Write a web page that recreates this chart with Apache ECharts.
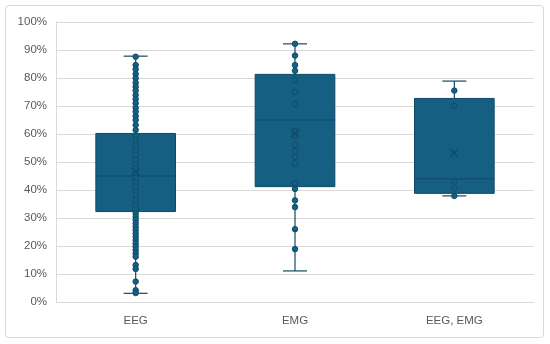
<!DOCTYPE html>
<html>
<head>
<meta charset="utf-8">
<script src="https://cdn.jsdelivr.net/npm/echarts@6/dist/echarts.min.js"></script>
<style>html,body{margin:0;padding:0;background:#fff}#c{width:550px;height:344px}</style>
</head>
<body>
<div id="c"></div>
<script>
const categories = ['EEG', 'EMG', 'EEG, EMG'];
const mins    = [3.1, 11.1, 37.9];
const q1s     = [32.3, 41.2, 38.8];
const medians = [45.0, 65.0, 44.0];
const q3s     = [60.2, 81.3, 72.7];
const maxs    = [87.8, 92.2, 78.9];
const means   = [46.5, 60.3, 53.2];
const eegPoints = [87.6, 84.6, 83.1, 81.4, 79.9, 78.3, 76.9, 75.5, 73.9, 72.4, 71.0, 69.4, 68.0, 66.4, 65.0, 63.2, 61.4,
  59.5, 57.8, 56.0, 54.2, 52.6, 51.0, 49.3, 47.7, 46.0, 44.3, 42.8, 41.2, 39.6, 38.0, 36.3, 34.7, 33.1,
  31.7, 30.5, 29.3, 28.1, 26.9, 25.7, 24.5, 23.3, 22.1, 20.9, 19.8, 18.6, 17.4, 16.2, 13.2, 11.8, 7.3, 4.2, 3.2];
const emgPoints = [92.2, 88.0, 84.6, 82.6, 79.3, 74.9, 70.7, 61.0, 59.5, 56.1, 54.0, 51.9, 49.5, 42.4, 40.4, 36.3, 33.9, 26.0, 18.9];
const bothPoints = [75.5, 70.0, 43.0, 40.5, 37.9];
const yTicks = [0, 10, 20, 30, 40, 50, 60, 70, 80, 90, 100];

const BOX = '#156082', DARK = '#0f4a66', PTB = '#0e4d69';
const boxData = categories.map((c, i) => [i, mins[i], q1s[i], medians[i], q3s[i], maxs[i]]);
const pointData = [];
[eegPoints, emgPoints, bothPoints].forEach((arr, i) => arr.forEach(v => pointData.push([i, v])));
const meanData = means.map((m, i) => [i, m]);

function renderBox(params, api) {
  const x = api.value(0);
  const band = api.size([1, 0])[0];
  const bw = band * 0.5, cw = 24;
  const pMin = api.coord([x, api.value(1)]);
  const pQ1 = api.coord([x, api.value(2)]);
  const pMed = api.coord([x, api.value(3)]);
  const pQ3 = api.coord([x, api.value(4)]);
  const pMax = api.coord([x, api.value(5)]);
  const cx = pMin[0];
  const ls = {stroke: DARK, lineWidth: 1.2};
  return {type: 'group', children: [
    {type: 'line', shape: {x1: cx, y1: pMax[1], x2: cx, y2: pQ3[1]}, style: ls},
    {type: 'line', shape: {x1: cx, y1: pQ1[1], x2: cx, y2: pMin[1]}, style: ls},
    {type: 'line', shape: {x1: cx - cw / 2, y1: pMax[1], x2: cx + cw / 2, y2: pMax[1]}, style: ls},
    {type: 'line', shape: {x1: cx - cw / 2, y1: pMin[1], x2: cx + cw / 2, y2: pMin[1]}, style: ls},
    {type: 'rect', shape: {x: cx - bw / 2, y: pQ3[1], width: bw, height: pQ1[1] - pQ3[1]}, style: {fill: BOX, stroke: DARK, lineWidth: 1}},
    {type: 'line', shape: {x1: cx - bw / 2, y1: pMed[1], x2: cx + bw / 2, y2: pMed[1]}, style: {stroke: DARK, lineWidth: 1}}
  ]};
}

const chart = echarts.init(document.getElementById('c'), null, {renderer: 'canvas'});
chart.setOption({
  animation: false,
  backgroundColor: '#fff',
  grid: {left: 56, right: 16, top: 22, bottom: 42},
  graphic: [{type: 'rect', shape: {x: 5.5, y: 5.5, width: 538, height: 332, r: 3}, style: {fill: 'none', stroke: '#d9d9d9', lineWidth: 1}, z: 0}],
  xAxis: {
    type: 'category', data: categories, boundaryGap: true,
    axisLine: {show: true, lineStyle: {color: '#d9d9d9'}},
    axisTick: {show: false},
    axisLabel: {color: '#595959', fontSize: 11.5, fontFamily: 'Liberation Sans, Arial, sans-serif', margin: 13}
  },
  yAxis: {
    type: 'value', min: 0, max: 100, interval: 10,
    axisLine: {show: true, lineStyle: {color: '#d9d9d9'}},
    axisTick: {show: false},
    splitLine: {lineStyle: {color: '#d9d9d9'}},
    axisLabel: {color: '#595959', fontSize: 11.5, fontFamily: 'Liberation Sans, Arial, sans-serif', margin: 9,
      formatter: v => yTicks.indexOf(v) >= 0 ? v + '%' : ''}
  },
  series: [
    {type: 'custom', renderItem: renderBox, data: boxData, encode: {x: 0, y: [1, 2, 3, 4, 5]}, z: 2},
    {type: 'scatter', data: pointData, symbol: 'circle', symbolSize: 5.5,
      itemStyle: {color: BOX, borderColor: PTB, borderWidth: 1, opacity: 1}, z: 3},
    {type: 'scatter', data: meanData, symbol: 'path://M0,0L10,10M10,0L0,10', symbolSize: 8,
      itemStyle: {color: 'none', borderColor: PTB, borderWidth: 1.5, opacity: 1}, z: 4}
  ]
});
</script>
</body>
</html>
